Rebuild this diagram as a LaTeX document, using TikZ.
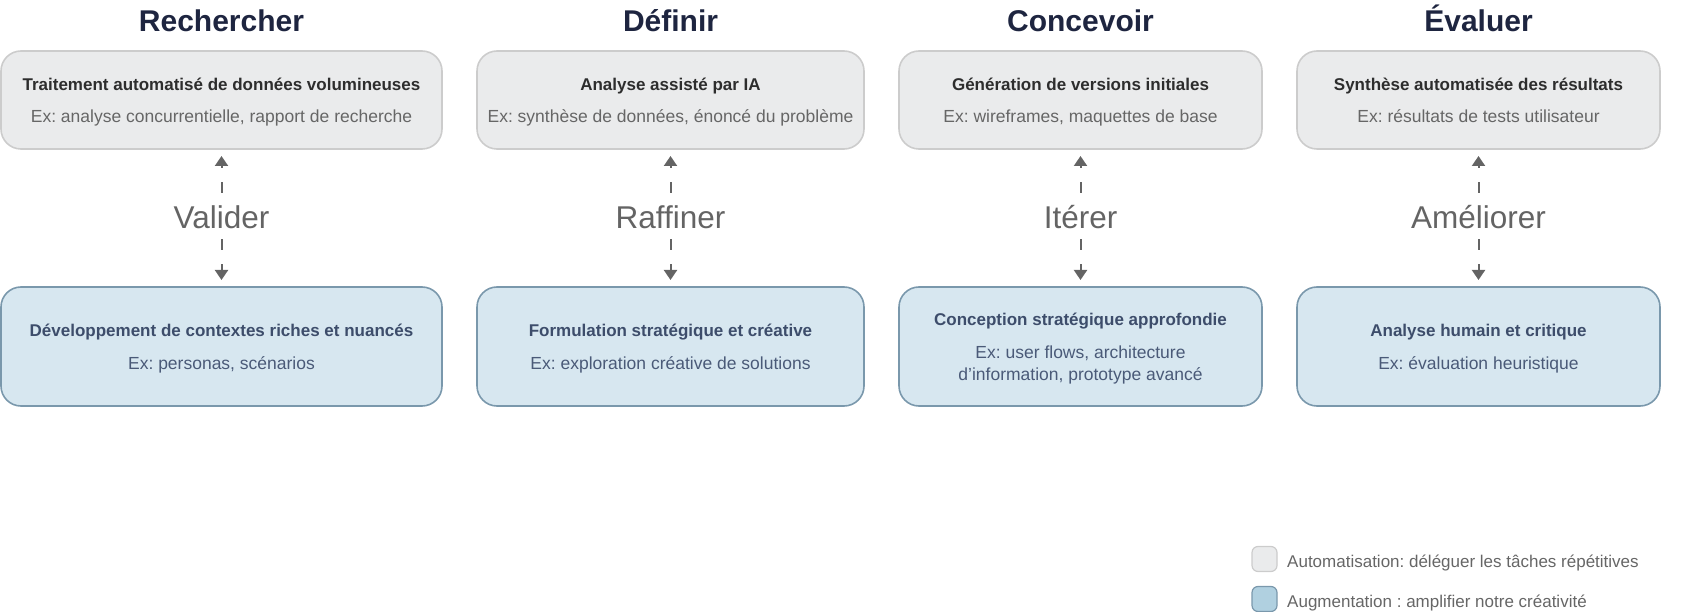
\documentclass[tikz,border=0pt]{standalone}
\usepackage{fontspec}
\setmainfont{Liberation Sans}
\frenchspacing
\usetikzlibrary{arrows.meta}
\definecolor{ttlcol}{RGB}{30,37,64}
\definecolor{topfill}{RGB}{234,235,236}
\definecolor{topdraw}{RGB}{204,204,204}
\definecolor{botfill}{RGB}{215,231,240}
\definecolor{botdraw}{RGB}{122,152,172}
\definecolor{toptxt}{RGB}{45,45,45}
\definecolor{topsub}{RGB}{102,102,102}
\definecolor{bottxt}{RGB}{61,77,107}
\definecolor{botsub}{RGB}{74,90,120}
\definecolor{arrcol}{RGB}{100,100,100}
\definecolor{legfill}{RGB}{176,208,224}
\tikzset{
  ttl/.style={anchor=base, inner sep=0pt, text=ttlcol, font=\fontsize{30}{36}\selectfont\bfseries},
  topbox/.style={draw=topdraw, fill=topfill, line width=1.6pt, rounded corners=20pt, inner sep=0pt, outer sep=0pt},
  botbox/.style={draw=botdraw, fill=botfill, line width=1.6pt, rounded corners=20pt, inner sep=0pt, outer sep=0pt},
  toptitle/.style={anchor=base, inner sep=0pt, text=toptxt, font=\fontsize{17}{20}\selectfont\bfseries},
  topsubtxt/.style={anchor=base, inner sep=0pt, text=topsub, font=\fontsize{17.5}{21}\selectfont},
  bottitle/.style={anchor=base, inner sep=0pt, text=bottxt, font=\fontsize{17}{20}\selectfont\bfseries},
  botsubtxt/.style={anchor=base, inner sep=0pt, text=botsub, font=\fontsize{17.5}{21}\selectfont},
  verb/.style={anchor=base, inner sep=0pt, text height=36pt, text depth=10pt, text=arrcol, font=\fontsize{31.5}{36}\selectfont},
  conn/.style={draw=arrcol, line width=2pt, dash pattern=on 11pt off 14pt, -{Triangle[width=13pt,length=10pt]}, shorten >=7pt},
  legbox/.style={line width=1.2pt, rounded corners=6pt, minimum width=25pt, minimum height=25pt, inner sep=0pt, outer sep=0pt},
  legtxt/.style={anchor=base west, inner sep=0pt, text=topsub, font=\fontsize{17}{20}\selectfont}
}
\begin{document}
\begin{tikzpicture}[x=1pt,y=-1pt]
\useasboundingbox (0,0) rectangle (1700,612);
% titles
\node[ttl] (h1) at (221.5,32) {Rechercher};
\node[ttl] (h2) at (670.5,32) {Définir};
\node[ttl] (h3) at (1080.5,32) {Concevoir};
\node[ttl] (h4) at (1478.5,32) {Évaluer};
% top boxes
\node[topbox, minimum width=441pt, minimum height=98pt] (t1) at (221.5,100) {};
\node[topbox, minimum width=387pt, minimum height=98pt] (t2) at (670.5,100) {};
\node[topbox, minimum width=363pt, minimum height=98pt] (t3) at (1080.5,100) {};
\node[topbox, minimum width=363pt, minimum height=98pt] (t4) at (1478.5,100) {};
% bottom boxes
\node[botbox, minimum width=441pt, minimum height=119pt] (b1) at (221.5,346.5) {};
\node[botbox, minimum width=387pt, minimum height=119pt] (b2) at (670.5,346.5) {};
\node[botbox, minimum width=363pt, minimum height=119pt] (b3) at (1080.5,346.5) {};
\node[botbox, minimum width=363pt, minimum height=119pt] (b4) at (1478.5,346.5) {};
% top texts
\node[toptitle] (t1a) at (221.5,91) {Traitement automatisé de données volumineuses};
\node[topsubtxt] (t1b) at (221.5,123) {Ex: analyse concurrentielle, rapport de recherche};
\node[toptitle] (t2a) at (670.5,91) {Analyse assisté par IA};
\node[topsubtxt] (t2b) at (670.5,123) {Ex: synthèse de données, énoncé du problème};
\node[toptitle] (t3a) at (1080.5,91) {Génération de versions initiales};
\node[topsubtxt] (t3b) at (1080.5,123) {Ex: wireframes, maquettes de base};
\node[toptitle] (t4a) at (1478.5,91) {Synthèse automatisée des résultats};
\node[topsubtxt] (t4b) at (1478.5,123) {Ex: résultats de tests utilisateur};
% bottom texts
\node[bottitle] (b1a) at (221.5,337) {Développement de contextes riches et nuancés};
\node[botsubtxt] (b1b) at (221.5,369) {Ex: personas, scénarios};
\node[bottitle] (b2a) at (670.5,337) {Formulation stratégique et créative};
\node[botsubtxt] (b2b) at (670.5,369) {Ex: exploration créative de solutions};
\node[bottitle] (b3a) at (1080.5,326) {Conception stratégique approfondie};
\node[botsubtxt] (b3b) at (1080.5,358) {Ex: user flows, architecture};
\node[botsubtxt] (b3c) at (1080.5,380) {d’information, prototype avancé};
\node[bottitle] (b4a) at (1478.5,337) {Analyse humain et critique};
\node[botsubtxt] (b4b) at (1478.5,369) {Ex: évaluation heuristique};
% verbs
\node[verb] (v1) at (221.5,229) {Valider};
\node[verb] (v2) at (670.5,229) {Raffiner};
\node[verb] (v3) at (1080.5,229) {Itérer};
\node[verb] (v4) at (1478.5,229) {Améliorer};
% connectors
\foreach \i in {1,2,3,4}{
  \draw[conn] (v\i.north) -- (t\i.south);
  \draw[conn] (v\i.south) -- (b\i.north);
}
% legend
\node[legbox, draw=topdraw, fill=topfill] (l1) at (1264.5,559) {};
\node[legbox, draw=botdraw, fill=legfill] (l2) at (1264.5,599) {};
\node[legtxt] (l1t) at (1287,567) {Automatisation: déléguer les tâches répétitives};
\node[legtxt] (l2t) at (1287,607) {Augmentation : amplifier notre créativité};
\end{tikzpicture}
\end{document}
